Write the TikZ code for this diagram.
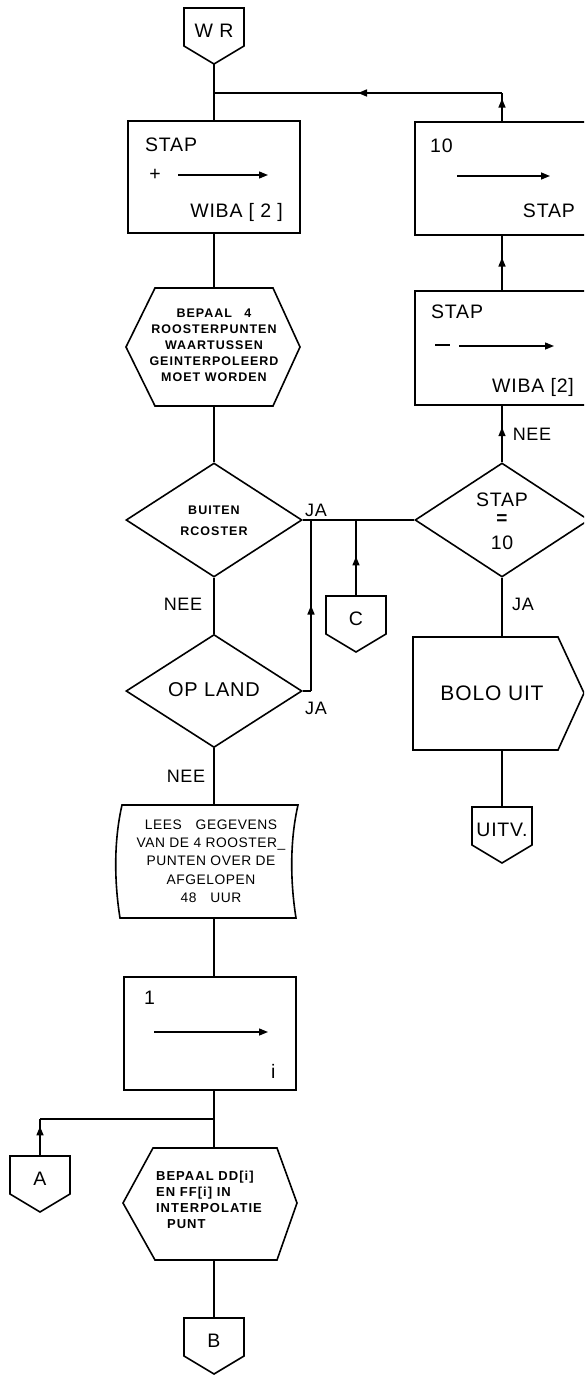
\documentclass[tikz,border=0pt]{standalone}
\usepackage{fontspec}
\setmainfont[LetterSpace=4]{Liberation Sans}
\newfontfamily\smallfnt[LetterSpace=8]{Liberation Sans}
\usetikzlibrary{arrows.meta,decorations.markings,shapes.geometric}
\tikzset{
  ln/.style={line width=1.6pt},
  arr/.style={postaction={decorate},decoration={markings,mark=at position #1 with {\arrow{Triangle[length=9pt,width=7pt]}}}},
  inarrow/.style={line width=1.4pt,-{Triangle[length=9pt,width=7pt]}},
  box/.style={draw,line width=1.6pt,rectangle,inner sep=0pt},
  dia/.style={draw,line width=1.6pt,diamond,inner sep=0pt},
  big/.style={font=\fontsize{19.5}{19.5}\selectfont,inner sep=0pt},
  lbl/.style={font=\fontsize{18}{18}\selectfont,inner sep=0pt},
  sml/.style={font=\smallfnt\bfseries\fontsize{12.5}{16}\selectfont,inner sep=0pt,align=center},
  med/.style={font=\fontsize{13.8}{18.3}\selectfont,inner sep=0pt,align=center},
}
\newcommand\offpage[4]{%
  \draw[ln] (#2-30,#3) -- (#2+30,#3) -- (#2+30,#3+38) -- (#2,#3+56) -- (#2-30,#3+38) -- cycle;
  \coordinate (#1-t) at (#2,#3);
  \coordinate (#1-b) at (#2,#3+56);
  \node[big] (#1) at (#2,#3+23) {#4};
}
\begin{document}
\begin{tikzpicture}[x=1pt,y=-1pt]
\useasboundingbox (0,0) rectangle (584,1375);
\clip (0,0) rectangle (584,1375);

% ---------- off-page connectors
\offpage{wr}{214}{8}{W R}
\offpage{cc}{356}{596}{C}
\offpage{aa}{40}{1156}{A}
\offpage{bb}{214}{1318}{B}
\offpage{uitv}{502}{807}{UITV.}

% ---------- junctions
\coordinate (j1) at (214,93);
\coordinate (c10) at (502,93);
\coordinate (ja1) at (311,520);
\coordinate (ja2) at (311,691);
\coordinate (cj) at (356,520);
\coordinate (j2) at (214,1119);
\coordinate (aj) at (40,1119);

% ---------- box STAP + -> WIBA[2]
\node[box,minimum width=172pt,minimum height=112pt] (b1) at (214,177) {};
\node[big,anchor=base west] (b1a) at (145,152) {STAP};
\node[big] (b1p) at (155,175) {+};
\draw[inarrow] (178,175) -- (268,175);
\node[big,anchor=base east] (b1b) at (283,217) {WIBA [ 2 ]};

% ---------- box 10 -> STAP
\node[box,minimum width=174pt,minimum height=113pt] (b10) at (502,178.5) {};
\node[big,anchor=base west] (b10a) at (430,153) {10};
\draw[inarrow] (457,176) -- (550,176);
\node[big,anchor=base east] (b10b) at (575,218) {STAP};

% ---------- box STAP - -> WIBA[2]
\node[box,minimum width=174pt,minimum height=114pt] (bs) at (502,348) {};
\node[big,anchor=base west] (bsa) at (431,318) {STAP};
\draw[line width=1.4pt] (435,345) -- (450,345);
\draw[inarrow] (459,346) -- (554,346);
\node[big,anchor=base east] (bsb) at (574,392) {WIBA [2]};

% ---------- hexagon 1
\draw[ln] (155,288) -- (273,288) -- (300,347) -- (273,406) -- (155,406) -- (126,347) -- cycle;
\coordinate (h1t) at (214,288);
\coordinate (h1b) at (214,406);
\node[sml] (h1) at (214,345) {BEPAAL\quad 4\\ROOSTERPUNTEN\\WAARTUSSEN\\GEINTERPOLEERD\\MOET WORDEN};

% ---------- diamonds
\node[dia,minimum width=176pt,minimum height=114pt] (d1) at (214,520) {};
\node[sml,font=\smallfnt\bfseries\fontsize{12.5}{21}\selectfont] (d1t) at (214,521) {BUITEN\\RCOSTER};
\node[dia,minimum width=176pt,minimum height=113pt] (d2) at (214,691) {};
\node[font=\fontsize{20}{20}\selectfont,inner sep=0pt] (d2t) at (214,690) {OP LAND};
\node[dia,minimum width=174pt,minimum height=114pt] (d3) at (502,520) {};
\node[big] (d3a) at (502,500) {STAP};
\node[font=\bfseries\fontsize{19}{19}\selectfont,inner sep=0pt] (d3b) at (502,520) {=};
\node[big] (d3c) at (502,543) {10};

% ---------- BOLO UIT
\draw[ln] (413,637) -- (558,637) -- (584,693) -- (558,750) -- (413,750) -- cycle;
\coordinate (bolot) at (502,637);
\coordinate (bolob) at (502,750);
\node[font=\fontsize{21}{21}\selectfont,inner sep=0pt] (bolo) at (492,693) {BOLO UIT};

% ---------- document (read) shape
\draw[ln] (122,805) -- (298,805) .. controls (290,840) and (290,880) .. (296,918)
  -- (120,918) .. controls (114,880) and (114,840) .. (122,805) -- cycle;
\coordinate (doct) at (214,805);
\coordinate (docb) at (214,918);
\node[med] (doc) at (211,861) {LEES\quad GEGEVENS\\VAN DE 4 ROOSTER\_\\PUNTEN OVER DE\\AFGELOPEN\\48\quad UUR};

% ---------- box 1 -> i
\node[box,minimum width=172pt,minimum height=113pt] (bi) at (210,1033.5) {};
\node[big,anchor=base west] (bia) at (144,1004) {1};
\draw[inarrow] (154,1032) -- (268,1032);
\node[big,anchor=base west] (bib) at (271,1078) {i};

% ---------- hexagon 2
\draw[ln] (153,1148) -- (277,1148) -- (297,1203) -- (277,1260) -- (155,1260) -- (123,1203) -- cycle;
\coordinate (h2t) at (214,1148);
\coordinate (h2b) at (214,1260);
\node[sml,align=left,font=\smallfnt\bfseries\fontsize{13}{16}\selectfont] (h2) at (209,1200) {BEPAAL DD[i]\\EN FF[i] IN\\INTERPOLATIE\\\hspace*{11pt}PUNT};

% ---------- connectors
\draw[ln] (wr-b) -- (j1);
\draw[ln] (j1) -- (b1.north);
\draw[ln,arr=0.8] (b10.north) -- (c10);
\draw[ln,arr=0.5] (c10) -- (j1);
\draw[ln,arr=0.6] (bs.north) -- (b10.south);
\draw[ln,arr=0.62] (d3.north) -- (bs.south);
\draw[ln] (b1.south) -- (h1t);
\draw[ln] (h1b) -- (d1.north);
\draw[ln] (d1.south) -- (d2.north);
\draw[ln] (d1.east) -- (d3.west);
\draw[ln] (d2.east) -- (ja2);
\draw[ln,arr=0.5] (ja2) -- (ja1);
\draw[ln,arr=0.52] (cc-t) -- (cj);
\draw[ln] (d3.south) -- (bolot);
\draw[ln] (bolob) -- (uitv-t);
\draw[ln] (d2.south) -- (doct);
\draw[ln] (docb) -- (docb |- bi.north);
\draw[ln] (bi.south -| j2) -- (j2);
\draw[ln] (j2) -- (h2t);
\draw[ln,arr=0.8] (aa-t) -- (aj);
\draw[ln] (aj) -- (j2);
\draw[ln] (h2b) -- (bb-t);

% ---------- branch labels
\node[lbl] (l1) at (316,510) {JA};
\node[lbl] (l2) at (316,708) {JA};
\node[lbl] (l3) at (183,604) {NEE};
\node[lbl] (l4) at (186,776) {NEE};
\node[lbl] (l5) at (532,434) {NEE};
\node[lbl] (l6) at (523,604) {JA};
\end{tikzpicture}
\end{document}
